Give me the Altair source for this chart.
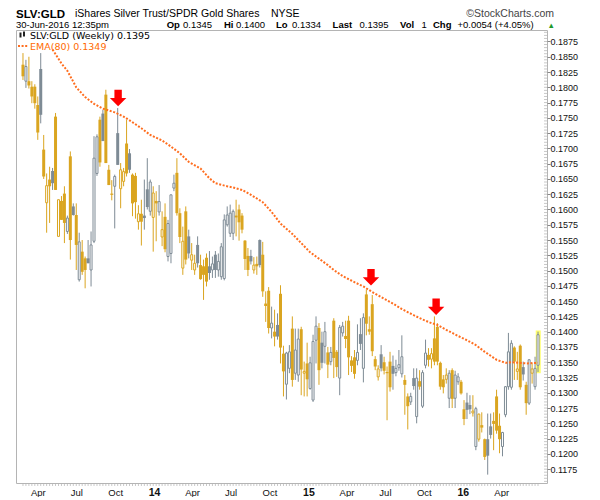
import altair as alt
import pandas as pd

FIRST_WEEK = "2013-02-25"

opens = [
    .1837, .1810, .1810, .1801, .1801, .1771, .1830, .1698, .1611, .1649,
    .1663, .1752, .1556, .1614, .1626, .1564, .1687, .1605, .1591, .1485,
    .1531, .1520, .1520, .1501, .1548, .1659, .1747, .1757, .1788, .1665,
    .1626, .1638, .1725, .1634, .1646, .1708, .1692, .1657, .1655, .1580,
    .1593, .1590, .1633, .1597, .1587, .1614, .1596, .1555, .1588, .1523,
    .1528, .1635, .1660, .1594, .1504, .1597, .1556, .1517, .1501, .1542,
    .1509, .1507, .1521, .1507, .1501, .1526, .1501, .1490, .1487, .1575,
    .1561, .1561, .1590, .1600, .1590, .1549, .1524, .1524, .1501, .1511,
    .1550, .1526, .1446, .1467, .1406, .1400, .1411, .1462, .1364, .1314,
    .1340, .1405, .1332, .1329, .1404, .1332, .1348, .1307, .1288, .1386,
    .1406, .1382, .1376, .1366, .1351, .1418, .1367, .1324, .1398, .1393,
    .1418, .1353, .1358, .1353, .1396, .1340, .1461, .1404, .1445, .1355,
    .1326, .1363, .1350, .1334, .1351, .1344, .1333, .1341, .1331, .1321,
    .1294, .1285, .1324, .1261, .1319, .1278, .1345, .1362, .1355, .1389,
    .1408, .1349, .1322, .1322, .1291, .1337, .1291, .1318, .1318, .1273,
    .1284, .1280, .1267, .1212, .1224, .1247, .1224, .1224, .1245, .1254,
    .1294, .1246, .1212, .1264, .1310, .1309, .1374, .1335, .1377, .1342,
    .1313, .1283, .1332, .1310, .1345]

highs = [
    .1856, .1845, .1850, .1810, .1805, .1785, .1856, .1722, .1659, .1670,
    .1668, .1758, .1616, .1622, .1638, .1590, .1695, .1610, .1610, .1562,
    .1550, .1523, .1550, .1564, .1720, .1723, .1752, .1763, .1796, .1673,
    .1648, .1657, .1766, .1676, .1668, .1747, .1699, .1659, .1660, .1607,
    .1616, .1649, .1684, .1649, .1638, .1630, .1640, .1597, .1610, .1583,
    .1624, .1657, .1684, .1602, .1572, .1605, .1567, .1545, .1526, .1556,
    .1526, .1518, .1528, .1532, .1523, .1532, .1528, .1545, .1592, .1605,
    .1608, .1600, .1616, .1608, .1594, .1550, .1537, .1534, .1522, .1523,
    .1551, .1547, .1466, .1473, .1441, .1436, .1430, .1476, .1377, .1367,
    .1378, .1425, .1405, .1405, .1408, .1351, .1382, .1359, .1395, .1425,
    .1414, .1400, .1416, .1375, .1375, .1422, .1370, .1411, .1416, .1418,
    .1426, .1360, .1370, .1412, .1422, .1430, .1469, .1425, .1460, .1360,
    .1345, .1378, .1359, .1343, .1367, .1361, .1354, .1370, .1394, .1329,
    .1299, .1300, .1340, .1340, .1337, .1337, .1387, .1373, .1373, .1425,
    .1414, .1351, .1329, .1340, .1337, .1340, .1336, .1332, .1321, .1288,
    .1300, .1296, .1296, .1277, .1266, .1268, .1225, .1266, .1266, .1268,
    .1305, .1266, .1236, .1311, .1398, .1386, .1376, .1367, .1379, .1351,
    .1318, .1355, .1348, .1359, .1400]

lows = [
    .1812, .1799, .1798, .1774, .1765, .1714, .1741, .1650, .1562, .1578,
    .1632, .1632, .1556, .1583, .1545, .1560, .1518, .1590, .1501, .1482,
    .1493, .1471, .1512, .1474, .1545, .1655, .1670, .1712, .1676, .1640,
    .1615, .1569, .1673, .1602, .1638, .1654, .1660, .1589, .1585, .1567,
    .1541, .1567, .1600, .1590, .1531, .1548, .1590, .1540, .1530, .1515,
    .1512, .1630, .1590, .1545, .1493, .1510, .1520, .1501, .1493, .1505,
    .1485, .1452, .1474, .1485, .1488, .1488, .1490, .1485, .1484, .1572,
    .1555, .1550, .1556, .1549, .1561, .1501, .1491, .1510, .1495, .1493,
    .1505, .1457, .1416, .1397, .1389, .1376, .1387, .1348, .1294, .1289,
    .1332, .1310, .1321, .1318, .1296, .1294, .1294, .1305, .1285, .1348,
    .1313, .1340, .1348, .1324, .1345, .1324, .1326, .1296, .1392, .1373,
    .1329, .1334, .1323, .1345, .1370, .1317, .1394, .1395, .1360, .1337,
    .1320, .1335, .1330, .1255, .1302, .1305, .1327, .1336, .1325, .1264,
    .1240, .1280, .1305, .1250, .1305, .1275, .1340, .1343, .1340, .1345,
    .1345, .1305, .1299, .1315, .1275, .1275, .1275, .1313, .1297, .1247,
    .1257, .1265, .1261, .1206, .1220, .1235, .1190, .1166, .1225, .1206,
    .1233, .1201, .1196, .1260, .1305, .1305, .1321, .1321, .1305, .1320,
    .1264, .1280, .1315, .1305, .1334]

closes = [
    .1818, .1834, .1803, .1785, .1774, .1726, .1755, .1654, .1639, .1638,
    .1643, .1632, .1616, .1583, .1578, .1586, .1550, .1591, .1542, .1547,
    .1498, .1501, .1512, .1542, .1684, .1719, .1677, .1712, .1676, .1640,
    .1624, .1654, .1673, .1665, .1662, .1659, .1665, .1610, .1612, .1593,
    .1580, .1586, .1604, .1645, .1627, .1610, .1613, .1567, .1535, .1577,
    .1624, .1643, .1594, .1555, .1548, .1518, .1528, .1526, .1512, .1512,
    .1486, .1493, .1482, .1496, .1511, .1501, .1515, .1539, .1583, .1591,
    .1594, .1597, .1587, .1579, .1567, .1519, .1501, .1515, .1509, .1507,
    .1509, .1466, .1442, .1406, .1414, .1392, .1392, .1374, .1335, .1365,
    .1367, .1321, .1370, .1388, .1338, .1335, .1322, .1349, .1384, .1409,
    .1337, .1349, .1400, .1346, .1366, .1357, .1342, .1407, .1409, .1388,
    .1358, .1344, .1331, .1366, .1380, .1423, .1413, .1400, .1368, .1343,
    .1339, .1340, .1336, .1332, .1309, .1331, .1340, .1346, .1359, .1313,
    .1278, .1294, .1311, .1324, .1310, .1333, .1365, .1354, .1364, .1351,
    .1351, .1310, .1309, .1329, .1332, .1290, .1329, .1326, .1299, .1257,
    .1272, .1273, .1270, .1274, .1265, .1243, .1195, .1197, .1231, .1249,
    .1238, .1224, .1235, .1310, .1367, .1381, .1351, .1339, .1309, .1330,
    .1283, .1354, .1339, .1340, .1395]

# G = gold (down week), S = slate (up week)
colors = list(
    "GSGGGGSGGG" "SGGGGSGSGS" "GGSSSSGSGG" "GSSGGGSGGG" "GSSSGGSGGS"
    "SSGGGGSGGS" "GGGSSSSSSS" "SSGGGGGSGG" "SGGGSGSGGS" "SGSSGGGSSS"
    "GSSGSGGSSG" "GGGSSSGGGG" "GSGGGSSSSG" "GSSSGSSGGG" "GGGGSGSSGG"
    "SSGSGGGSSG" "GGSSSSGGGS" "GSGSS")

ema_bar = [10, 13, 15, 18, 21, 24, 27, 31, 34, 36, 40, 43, 47, 50, 53, 56, 60,
           63, 65, 69, 71, 74, 77, 81, 84, 87, 91, 94, 97, 101, 103, 105, 108,
           112, 115, 118, 122, 125, 128, 132, 135, 138, 140, 143, 147, 150,
           153, 156, 160, 163, 165, 170, 174]
ema_val = [.1862, .1839, .1827, .1800, .1784, .1773, .1765, .1759, .1752, .1746,
           .1733, .1722, .1713, .1703, .1692, .1678, .1667, .1651, .1643, .1638,
           .1636, .1632, .1624, .1612, .1596, .1577, .1560, .1545, .1530, .1516,
           .1509, .1501, .1491, .1481, .1474, .1465, .1454, .1446, .1437, .1427,
           .1420, .1414, .1411, .1403, .1393, .1386, .1378, .1367, .1354, .1349,
           .1350, .1348, .1349]

arrow_dates = ["2013-10-08T00:00:00", "2015-05-29T00:00:00", "2015-10-30T00:00:00"]
arrow_prices = [0.17825, 0.14890, 0.14409]

hl_x = ["2016-06-21T12:00:00"]
hl_x2 = ["2016-07-03T12:00:00"]
hl_y = [0.1332]
hl_y2 = [0.1402]

q_years = [2013, 2013, 2013, 2014, 2014, 2014, 2014, 2015, 2015, 2015, 2015, 2016, 2016]
q_months = [4, 7, 10, 1, 4, 7, 10, 1, 4, 7, 10, 1, 4]
y_major = [round(0.1175 + 0.0025 * k, 4) for k in range(29)]
y_minor = [round(0.1155 + 0.0005 * k, 4) for k in range(148)]

GOLD = "#DAA520"
SLATE = "#7E8B95"
ORANGE = "#FF6E1F"

weeks = pd.date_range(FIRST_WEEK, periods=len(closes), freq="7D")
wk = weeks.strftime("%Y-%m-%dT00:00:00")
df = pd.DataFrame({"date": wk, "open": opens, "high": highs, "low": lows,
                   "close": closes, "col": colors})
ema_df = pd.DataFrame({"date": [wk[i] for i in ema_bar], "ema": ema_val})
arr_df = pd.DataFrame({"date": arrow_dates, "p": arrow_prices})
hl_df = pd.DataFrame({"x": hl_x, "x2": hl_x2, "y": hl_y, "y2": hl_y2})
minor_df = pd.DataFrame({"v": y_minor})
wk_df = pd.DataFrame({"date": wk})
one = pd.DataFrame({"k": [0]})

xscale = alt.Scale(domain=[alt.DateTime(year=2013, month=2, date=20, hours=8),
                           alt.DateTime(year=2016, month=7, date=6, hours=10)])
yscale = alt.Scale(domain=[0.11523, 0.18938], nice=False, zero=False)

is_year = "month(datum.value) == 0"
xaxis = alt.Axis(
    values=[alt.DateTime(year=y, month=m, date=1) for y, m in zip(q_years, q_months)],
    labelExpr=f"{is_year} ? timeFormat(datum.value, '%y') : timeFormat(datum.value, '%b')",
    labelFontWeight={"condition": {"test": is_year, "value": "bold"}, "value": "normal"},
    labelFontSize={"condition": {"test": is_year, "value": 10.5}, "value": 9.5},
    labelFont="Liberation Sans", labelColor="#111", ticks=False, domain=False,
    grid=False, labelPadding=4, title=None, labelOverlap=False)
yaxis = alt.Axis(orient="right", values=y_major, format=".4f", tickSize=3,
                 tickColor="#888", domain=False, grid=False, labelPadding=0,
                 labelFont="Liberation Sans", labelFontSize=9, labelColor="#111",
                 title=None, labelOverlap=False)


def X(f):
    return alt.X(f, type="temporal", scale=xscale, axis=xaxis)


def Y(f):
    return alt.Y(f, type="quantitative", scale=yscale, axis=yaxis)


cscale = alt.Scale(domain=["G", "S"], range=[GOLD, SLATE])

hl = alt.Chart(hl_df).mark_rect(color="#FFFF55", opacity=0.85).encode(
    x=X("x"), x2="x2:T", y=Y("y"), y2="y2:Q")

xticks = alt.Chart(wk_df).mark_rule(color="#c8c8c8", strokeWidth=1).encode(
    x=X("date"), y=alt.value(454), y2=alt.value(456))

yticks = alt.Chart(minor_df).mark_rule(color="#c8c8c8", strokeWidth=1).encode(
    y=Y("v"), x=alt.value(528), x2=alt.value(531))

base = alt.Chart(df)
wicks = base.mark_rule(strokeWidth=1).encode(
    x=X("date"), y=Y("low"), y2="high:Q",
    color=alt.Color("col:N", scale=cscale, legend=None))
filled = base.transform_filter("datum.close < datum.open").mark_bar(width=3).encode(
    x=X("date"), y=Y("open"), y2="close:Q",
    color=alt.Color("col:N", scale=cscale, legend=None))
hollow = base.transform_filter("datum.close >= datum.open").mark_bar(
    width=2, fill="white", strokeWidth=1).encode(
    x=X("date"), y=Y("open"), y2="close:Q",
    stroke=alt.Stroke("col:N", scale=cscale, legend=None))

ema = alt.Chart(ema_df).mark_line(color=ORANGE, strokeWidth=2,
                                  strokeDash=[2, 1.6]).encode(
    x=X("date"), y=Y("ema"))

ARROW = "M-0.45,-1L0.45,-1L0.45,0L1,0L0,1L-1,0L-0.45,0Z"
arrows = alt.Chart(arr_df).mark_point(shape=ARROW, filled=True, color="#FF0000",
                                      size=270, opacity=1, strokeWidth=0).encode(
    x=X("date"), y=Y("p"))


def txt(s, x, y, size, weight="normal", color="#000", font="Liberation Sans",
        align="left"):
    return alt.Chart(one).mark_text(text=s, align=align, baseline="alphabetic",
                                    fontSize=size, fontWeight=weight, color=color,
                                    font=font).encode(x=alt.value(x), y=alt.value(y))


L1 = -13
L2 = -2.5
S2 = 9.5
texts = [
    txt("SLV:GLD", 0, -12.5, 11.5, "bold"),
    txt("iShares Silver Trust/SPDR Gold Shares", 59, L1, 10.5),
    txt("NYSE", 255, L1, 10.5),
    txt("\u00a9StockCharts.com", 538, L1, 10.5, color="#444", align="right"),
    txt("30-Jun-2016 12:35pm", 0, L2, S2),
    txt("Op", 150.7, L2, S2, "bold"), txt("0.1345", 167, L2, S2),
    txt("Hi", 208, L2, S2, "bold"), txt("0.1400", 220, L2, S2),
    txt("Lo", 260, L2, S2, "bold"), txt("0.1334", 276, L2, S2),
    txt("Last", 316.6, L2, S2, "bold"), txt("0.1395", 343.5, L2, S2),
    txt("Vol", 384, L2, S2, "bold"), txt("1", 405.5, L2, S2),
    txt("Chg", 417, L2, S2, "bold"), txt("+0.0054 (+4.05%)", 441.5, L2, S2),
    txt("\u25b2", 531.5, L2, 7.5, color="#1f9a2a"),
    txt("SLV:GLD (Weekly) 0.1395", 14, 8.5, 9.5, font="DejaVu Sans"),
    txt("EMA(80) 0.1349", 14, 19.5, 9.5, color="#FF6A00", font="DejaVu Sans"),
]

icon1 = alt.Chart(one).mark_rule(color="#222", strokeWidth=2).encode(
    x=alt.value(4.5), y=alt.value(2.5), y2=alt.value(7.5))
icon2 = alt.Chart(one).mark_rule(color="#222", strokeWidth=2).encode(
    x=alt.value(8), y=alt.value(1.5), y2=alt.value(6.5))
leg_line = alt.Chart(one).mark_rule(color=ORANGE, strokeWidth=2,
                                    strokeDash=[2, 1.6]).encode(
    x=alt.value(2), x2=alt.value(12), y=alt.value(16))

chart = alt.layer(hl, xticks, yticks, wicks, filled, hollow, ema, arrows,
                  icon1, icon2, leg_line, *texts).properties(
    width=531, height=453,
    autosize=alt.AutoSizeParams(type="none"),
    padding={"left": 8, "top": 22, "right": 45, "bottom": 14},
).configure_view(stroke="#b4b4b4", strokeWidth=1)

chart.save("out.html", embed_options={"renderer": "svg", "actions": False})
